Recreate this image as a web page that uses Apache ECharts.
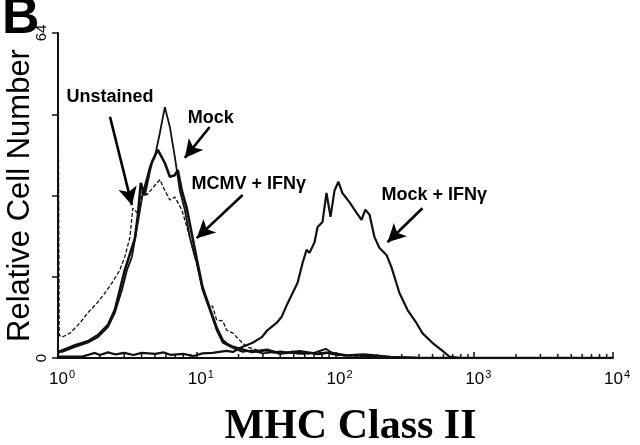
<!DOCTYPE html>
<html>
<head>
<meta charset="utf-8">
<script src="https://cdn.jsdelivr.net/npm/echarts@6/dist/echarts.min.js"></script>
<style>
  html, body { margin: 0; padding: 0; background: #fff; }
  #myChart { width: 640px; height: 445px; }
</style>
</head>
<body>
<div id="myChart"></div>
<script>
  // fluorescence (MHC class II) vs relative cell number
  let unstained = [
    [1.0, 64], [1.02, 4.5], [1.07, 4.1], [1.22, 4.9], [1.44, 6.9], [1.64, 8.9], [1.91, 10.8],
    [2.18, 12.8], [2.45, 14.8], [2.79, 17.3], [3.03, 19.9], [3.3, 23.8], [3.46, 29.5],
    [3.76, 28.5], [4.09, 33.5], [4.37, 32.1], [4.82, 33.5], [5.42, 35.1], [5.89, 33],
    [6.4, 31.1], [6.95, 31.7], [7.8, 29.2], [8.61, 25.2], [9.36, 21.5], [10.0, 18.5],
    [11.0, 13.8], [12.4, 10.0], [13.0, 10.2], [13.9, 7.5], [15.4, 7.3], [16.4, 5.5],
    [18.2, 4.9], [20.4, 3.5], [22.9, 2.2], [27, 1.6], [32, 1.2], [40, 0.8], [50, 1.4],
    [60, 0.7], [83, 1.2], [100, 0.5], [130, 0.4], [200, 0.2], [300, 0.1], [10000, 0]
  ];
  let mock = [
    [1.0, 1.5], [1.07, 1.2], [1.33, 2.2], [1.64, 3.0], [1.94, 4.1], [2.29, 6.1], [2.57, 8.9],
    [2.89, 13.4], [3.14, 17.3], [3.41, 19.9], [3.76, 26.6], [4.09, 32.5], [4.59, 37.6],
    [4.99, 39.6], [5.42, 44.3], [5.89, 49.4], [6.4, 45.5], [6.95, 39.6], [7.55, 33],
    [8.2, 29.2], [8.91, 23.8], [9.36, 21.5], [10.0, 18.7], [11.0, 13.4], [12.4, 9.5],
    [13.9, 5.5], [15.4, 3.0], [16.4, 2.6], [18.2, 2.0], [21.4, 1.2], [25, 1.5], [30, 0.9],
    [40, 1.3], [55, 0.8], [70, 1.0], [85, 1.8], [100, 0.6], [150, 0.4], [250, 0.2],
    [400, 0], [10000, 0]
  ];
  let mcmvIfn = [
    [1.0, 1.0], [1.07, 1.5], [1.33, 2.5], [1.64, 3.3], [1.94, 4.5], [2.29, 6.5], [2.57, 9.5],
    [2.79, 13.4], [3.03, 17.3], [3.3, 20.5], [3.58, 23.5], [3.76, 28], [3.95, 34.5],
    [4.2, 32], [4.59, 37.0], [4.75, 38.6], [5.24, 41.0], [5.89, 38.4], [6.4, 35.7],
    [6.95, 36.0], [7.3, 37.0], [7.8, 33], [8.47, 29.5], [9.36, 23.5], [10.0, 19.5],
    [11.0, 14], [12.4, 9.8], [13.9, 6], [15.4, 3.5], [16.4, 2.8], [18.2, 2.2], [20.4, 1.8],
    [25, 1.2], [32, 1.6], [40, 0.9], [55, 1.3], [75, 0.8], [90, 1.1], [120, 0.5],
    [160, 0.7], [250, 0.2], [400, 0], [10000, 0]
  ];
  let mockIfn = [
    [1.0, 0.3], [1.5, 0.3], [1.85, 1.0], [2.0, 0.6], [2.3, 1.1], [2.6, 0.7], [3.0, 1.0],
    [3.5, 0.6], [4.0, 1.0], [5.0, 0.8], [5.8, 1.1], [6.5, 0.6], [8, 0.8], [9.5, 0.4],
    [11, 0.9], [13, 1.0], [16.4, 1.4], [18.2, 1.2], [21.4, 2.2], [25.3, 3.0], [29.4, 4.1],
    [32.4, 5.5], [37.6, 6.9], [40.9, 8.1], [45.2, 10.8], [49.1, 12.8], [53.3, 14.8],
    [57.9, 18.7], [61.9, 21.3], [65, 20.7], [70.6, 22.8], [74.3, 25.8], [80.6, 26.8],
    [86.1, 32.5], [92.1, 27.8], [98.4, 33], [105, 34.7], [112, 32.5], [126, 30.7],
    [142, 28.6], [154, 27.2], [164, 29.2], [176, 28.2], [191, 23.8], [207, 21.7],
    [233, 20.3], [253, 17.9], [289, 12.8], [330, 9.5], [383, 6.9], [423, 4.9], [499, 3.0],
    [579, 1.6], [661, 0.3], [800, 0], [10000, 0]
  ];
  let yTicks = [0, 64];
  // annotation text anchors and arrows [from, to] in data units
  let notes = [
    [2.37, 51.4, 'Unstained'],
    [12.6, 47.3, 'Mock'],
    [23.7, 34.3, 'MCMV + IFNγ'],
    [515, 32.1, 'Mock + IFNγ']
  ];
  let arrows = [
    [[2.37, 47.5], [3.41, 30.1]],
    [[12.4, 45.5], [8.2, 39.4]],
    [[21.4, 32.1], [10.0, 23.6]],
    [[423, 29.5], [237, 22.8]]
  ];

  // log minor ticks 2..9 of each decade
  let minorTicks = [];
  for (let d = 0; d < 4; d++) {
    for (let m = 2; m <= 9; m++) minorTicks.push([m * Math.pow(10, d), 0]);
  }

  let ink = '#111';
  let myChart = echarts.init(document.getElementById('myChart'));
  myChart.setOption({
    animation: false,
    title: {
      text: 'B', left: -3, top: -12,
      textStyle: { fontFamily: 'Liberation Sans', fontSize: 52, fontWeight: 'bold', color: '#000' }
    },
    grid: { left: 58, right: 27, top: 33, bottom: 87, outerBoundsMode: 'none' },
    xAxis: {
      type: 'log', logBase: 10, min: 1, max: 10000,
      name: 'MHC Class II', nameLocation: 'middle', nameGap: 48,
      nameTextStyle: {
        fontFamily: 'Liberation Serif', fontSize: 42, fontWeight: 'bold', color: '#000',
        padding: [0, 0, 0, 30]
      },
      axisLine: { lineStyle: { color: ink, width: 2 } },
      axisTick: { inside: true, length: 6, lineStyle: { color: ink, width: 1.5 } },
      splitLine: { show: false },
      axisLabel: {
        margin: 11, padding: [0, 0, 0, 8],
        formatter: function (v) { return '{b|10}{s|' + Math.round(Math.log10(v)) + '}'; },
        rich: {
          b: { fontFamily: 'Liberation Sans', fontSize: 17, color: '#000', verticalAlign: 'bottom' },
          s: { fontFamily: 'Liberation Sans', fontSize: 11, color: '#000', verticalAlign: 'top', padding: [0, 0, 8, 1] }
        }
      }
    },
    yAxis: {
      type: 'value', min: 0, max: 64, interval: 16,
      name: 'Relative Cell Number', nameLocation: 'middle', nameGap: 22, nameMoveOverlap: false,
      nameTextStyle: { fontFamily: 'Liberation Sans', fontSize: 31, color: '#000' },
      axisLine: { show: true, lineStyle: { color: ink, width: 2 } },
      axisTick: { show: true, length: 6, lineStyle: { color: ink, width: 1.5 } },
      splitLine: { show: false },
      axisLabel: {
        rotate: 90, margin: 9,
        fontFamily: 'Liberation Sans', fontSize: 15, color: '#000',
        formatter: function (v) { return yTicks.indexOf(v) >= 0 ? String(v) : ''; }
      }
    },
    series: [
      {
        name: 'Mock + IFNγ', type: 'line', data: mockIfn, showSymbol: false,
        lineStyle: { color: ink, width: 2.2 }
      },
      {
        name: 'Unstained', type: 'line', data: unstained, showSymbol: false,
        lineStyle: { color: ink, width: 1.3, type: [4, 2] }
      },
      {
        name: 'Mock', type: 'line', data: mock, showSymbol: false,
        lineStyle: { color: ink, width: 1.8 }
      },
      {
        name: 'MCMV + IFNγ', type: 'line', data: mcmvIfn, showSymbol: false,
        lineStyle: { color: ink, width: 2.6 }
      },
      {
        name: 'minor ticks', type: 'custom', data: minorTicks, silent: true,
        renderItem: function (params, api) {
          let p = api.coord([api.value(0), 0]);
          return {
            type: 'line',
            shape: { x1: p[0], y1: p[1], x2: p[0], y2: p[1] - 4 },
            style: { stroke: ink, lineWidth: 1.5 }
          };
        }
      },
      {
        name: 'notes', type: 'scatter', data: notes, symbolSize: 0, silent: true,
        itemStyle: { opacity: 1, color: '#000' },
        label: {
          show: true, position: 'inside', opacity: 1,
          formatter: function (p) { return p.value[2]; },
          fontFamily: 'Liberation Sans', fontSize: 18, fontWeight: 'bold', color: '#000',
          textBorderWidth: 0
        },
        markLine: {
          silent: true, symbol: ['none', 'arrow'], symbolSize: [14, 18],
          label: { show: false },
          lineStyle: { color: '#000', width: 2.6, type: 'solid' },
          data: arrows.map(function (a) { return [{ coord: a[0] }, { coord: a[1] }]; })
        }
      }
    ]
  });
</script>
</body>
</html>
